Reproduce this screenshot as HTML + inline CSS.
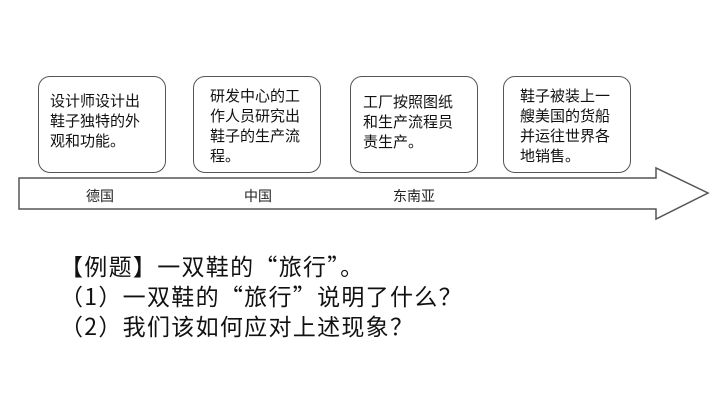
<!DOCTYPE html>
<html><head><meta charset="utf-8"><style>
body{margin:0;width:720px;height:405px;background:#fff;position:relative;overflow:hidden;font-family:"Liberation Sans","Noto Sans CJK SC",sans-serif;}
.b{position:absolute;top:76px;width:128px;height:97px;border:1.5px solid #555;border-radius:12px;box-sizing:border-box;background:#fff;}
.t{position:absolute;font-size:15px;line-height:20px;color:#111;}
.l{position:absolute;top:186px;font-size:14px;color:#222;}
.q{position:absolute;left:60px;font-size:23px;letter-spacing:1.3px;color:#111;line-height:30px;font-family:"Noto Sans CJK SC",sans-serif;}
</style></head><body>
<svg width="720" height="405" style="position:absolute;left:0;top:0">
<polygon points="19,178 656,178 656,168 708,193 656,219 656,209 19,209" fill="#fff" stroke="#555" stroke-width="1.5"/>
</svg>
<div class="b" style="left:38px"></div>
<div class="b" style="left:193px"></div>
<div class="b" style="left:350px"></div>
<div class="b" style="left:503px"></div>
<div class="t" style="left:50px;top:92px">设计师设计出<br>鞋子独特的外<br>观和功能。</div>
<div class="t" style="left:210px;top:87px">研发中心的工<br>作人员研究出<br>鞋子的生产流<br>程。</div>
<div class="t" style="left:363px;top:93px">工厂按照图纸<br>和生产流程员<br>责生产。</div>
<div class="t" style="left:520px;top:87px">鞋子被装上一<br>艘美国的货船<br>并运往世界各<br>地销售。</div>
<div class="l" style="left:86px">德国</div>
<div class="l" style="left:244px">中国</div>
<div class="l" style="left:393px">东南亚</div>
<div class="q" style="top:250px">【例题】一双鞋的“旅行”。</div>
<div class="q" style="top:280px">（1）一双鞋的“旅行”说明了什么？</div>
<div class="q" style="top:310px">（2）我们该如何应对上述现象？</div>
</body></html>
